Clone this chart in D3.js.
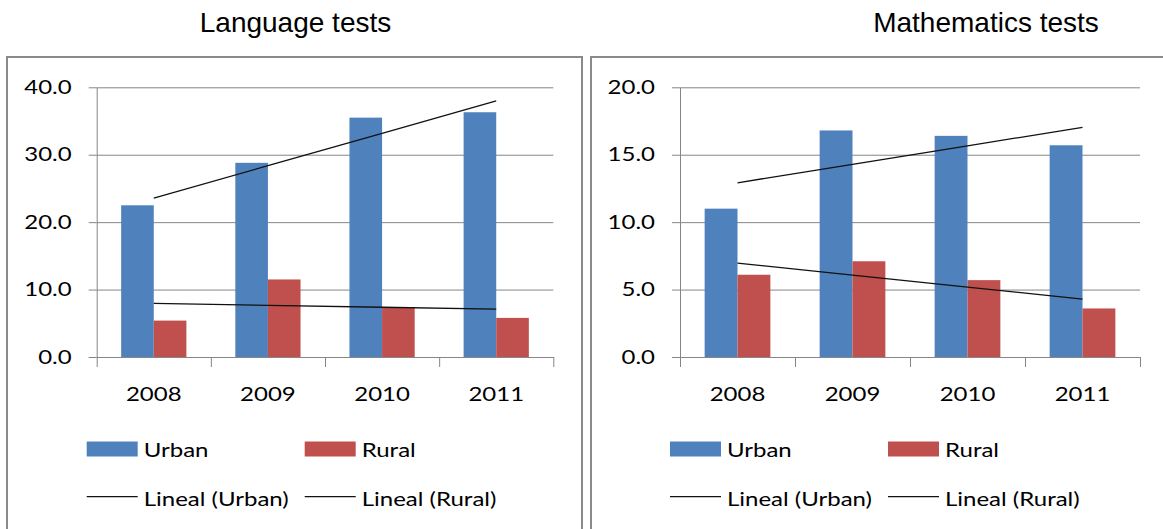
<!DOCTYPE html>
<meta charset="utf-8">
<script src="https://d3js.org/d3.v7.min.js"></script>
<style>
  body { margin: 0; background: #fff; }
  svg text { font-family: Lato, 'Open Sans', sans-serif; fill: #000; }
  .title { font-family: 'Liberation Sans', Arial, sans-serif; }
</style>
<div id="chart"></div>
<script>
  // values
  var years = ["2008", "2009", "2010", "2011"];
  var series = ["Urban", "Rural"];
  var langUrban = [22.5, 28.8, 35.5, 36.3];
  var langRural = [5.4, 11.5, 7.4, 5.8];
  var mathUrban = [11.0, 16.8, 16.4, 15.7];
  var mathRural = [6.1, 7.1, 5.7, 3.6];
  var langTicks = [0, 10, 20, 30, 40];
  var mathTicks = [0, 5, 10, 15, 20];
  var titles = ["Language tests", "Mathematics tests"];

  var colors = { Urban: "#4f81bd", Rural: "#c0504d" };
  var axisGray = "#868686";
  var stretch = 1.2; // the chart text in the picture is wider than normal

  var svg = d3.select("#chart").append("svg")
      .attr("width", 1163)
      .attr("height", 529);

  // least squares line over x = 1..n, like the Excel "Lineal" trendline
  function trend(vals) {
    var n = vals.length, xm = (n + 1) / 2, ym = d3.mean(vals);
    var sxy = 0, sxx = 0;
    vals.forEach(function (v, i) { sxy += (i + 1 - xm) * (v - ym); sxx += (i + 1 - xm) * (i + 1 - xm); });
    var b = sxy / sxx;
    return vals.map(function (v, i) { return ym + b * (i + 1 - xm); });
  }

  function panel(opts) {
    var g = svg.append("g");
    var w = opts.x1 - opts.x0, top = 87.3, bottom = 357;

    g.append("rect")
        .attr("x", opts.boxX).attr("y", 57)
        .attr("width", opts.boxW).attr("height", 520)
        .attr("fill", "none").attr("stroke", "#8a8a8a").attr("stroke-width", 2);

    g.append("text").attr("class", "title")
        .attr("x", opts.titleX).attr("y", 32)
        .attr("text-anchor", "middle")
        .style("font-size", "28px")
        .text(opts.title);

    var plot = g.append("g").attr("transform", "translate(" + opts.x0 + ",0)");

    var x = d3.scaleBand().domain(years).range([0, w])
        .paddingInner(1.5 / 3.5).paddingOuter(0.75 / 3.5);
    var xs = d3.scaleBand().domain(series).range([0, x.bandwidth()]);
    var y = d3.scaleLinear().domain(d3.extent(opts.ticks)).range([bottom, top]);

    // gridlines
    plot.append("g")
        .call(d3.axisLeft(y).tickValues(opts.ticks).tickSize(-w).tickFormat(""))
        .call(function (s) { s.select(".domain").remove(); })
        .selectAll("line").attr("stroke", axisGray);

    // y axis
    var ya = plot.append("g")
        .call(d3.axisLeft(y).tickValues(opts.ticks).tickSize(8).tickSizeOuter(0)
          .tickFormat(d3.format(".1f")));
    ya.selectAll("line, path").attr("stroke", axisGray);
    ya.selectAll("text")
        .attr("x", null).attr("dy", null)
        .attr("transform", "translate(-25,6) scale(" + stretch + ",1)")
        .style("font-size", "20px").attr("fill", "#000");

    // bars
    var rows = years.map(function (yr, i) {
      return { year: yr, Urban: opts.urban[i], Rural: opts.rural[i] };
    });
    plot.append("g").selectAll("g")
        .data(rows).enter().append("g")
        .attr("transform", function (d) { return "translate(" + x(d.year) + ",0)"; })
        .selectAll("rect")
        .data(function (d) { return series.map(function (s) { return { key: s, value: d[s] }; }); })
        .enter().append("rect")
        .attr("x", function (d) { return xs(d.key); })
        .attr("y", function (d) { return y(d.value); })
        .attr("width", xs.bandwidth())
        .attr("height", function (d) { return bottom - y(d.value); })
        .attr("fill", function (d) { return colors[d.key]; });

    // x axis: ticks on category boundaries
    var xb = d3.scaleLinear().domain([0, years.length]).range([0, w]);
    var xa = plot.append("g").attr("transform", "translate(0," + bottom + ")")
        .call(d3.axisBottom(xb).ticks(years.length).tickSize(10).tickSizeOuter(0).tickFormat(""));
    xa.selectAll("line, path").attr("stroke", axisGray);

    plot.append("g").selectAll("text")
        .data(years).enter().append("text")
        .attr("transform", function (d) {
          return "translate(" + (x(d) + x.bandwidth() / 2) + ",401) scale(" + stretch + ",1)";
        })
        .attr("text-anchor", "middle")
        .style("font-size", "20px")
        .text(function (d) { return d; });

    // trendlines
    var line = d3.line()
        .x(function (d, i) { return x(years[i]) + x.bandwidth() / 2; })
        .y(function (d) { return y(d); });
    [opts.urban, opts.rural].forEach(function (vals) {
      plot.append("path")
          .datum(trend(vals))
          .attr("d", line)
          .attr("fill", "none")
          .attr("stroke", "#111")
          .attr("stroke-width", 1.3);
    });

    // legend
    var leg = plot.append("g");
    var legX = [-10, 208];
    series.forEach(function (s, i) {
      leg.append("rect")
          .attr("x", legX[i]).attr("y", 441.5)
          .attr("width", 51).attr("height", 15)
          .attr("fill", colors[s]);
      leg.append("text")
          .attr("transform", "translate(" + (legX[i] + 57) + ",456.5) scale(" + stretch + ",1)")
          .style("font-size", "20px")
          .text(s);
      leg.append("line")
          .attr("x1", legX[i]).attr("x2", legX[i] + 51)
          .attr("y1", 496.7).attr("y2", 496.7)
          .attr("stroke", "#111").attr("stroke-width", 1.3);
      leg.append("text")
          .attr("transform", "translate(" + (legX[i] + 57) + ",505.5) scale(" + stretch + ",1)")
          .style("font-size", "20px")
          .text("Lineal (" + s + ")");
    });
  }

  panel({ title: titles[0], titleX: 295.5, boxX: 7, boxW: 575, x0: 96.7, x1: 553.3,
          urban: langUrban, rural: langRural, ticks: langTicks });
  panel({ title: titles[1], titleX: 986, boxX: 591, boxW: 600, x0: 680, x1: 1140,
          urban: mathUrban, rural: mathRural, ticks: mathTicks });
</script>
